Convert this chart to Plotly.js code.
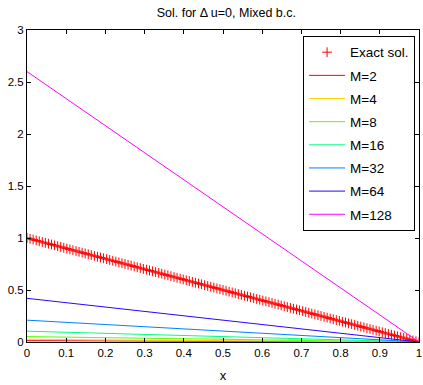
<!DOCTYPE html>
<html><head><meta charset="utf-8">
<script src="https://cdn.plot.ly/plotly-3.0.1.min.js"></script>
<style>html,body{margin:0;padding:0;background:#fff;}#c{width:423px;height:385px;}</style>
</head><body><div id="c"></div>
<script>
// Exact solution u = 1 - x sampled on 129 points
const exactN = 128;
const exactX = Array.from({length: exactN + 1}, (_, i) => i / exactN);
const exactY = exactX.map(x => 1 - x);

// Numerical solutions: straight lines from value at x=0 to 0 at x=1
const mLabels = ["M=2", "M=4", "M=8", "M=16", "M=32", "M=64", "M=128"];
const mStartValues = [0.013, 0.026, 0.052, 0.104, 0.21, 0.42, 2.6];
const mEndValues = [0, 0, 0, 0, 0, 0, 0];
const mColors = ["#ff0000", "#ffd500", "#55ff00", "#00ff80", "#0080ff", "#3000ff", "#ff00ff"];
const lineX = [0, 1];

const traces = [{
  x: exactX, y: exactY, type: "scatter", mode: "markers", name: "Exact sol.", legendgroup: "e",
  marker: {symbol: "cross-thin-open", size: 7, color: "#ff0000", line: {color: "#ff0000", width: 1}}
}];
mLabels.forEach((lab, i) => {
  traces.push({
    x: lineX, y: [mStartValues[i], mEndValues[i]], type: "scatter", mode: "lines",
    name: lab, legendgroup: "g" + i, line: {color: mColors[i], width: 1}
  });
});

const font = {family: "Liberation Sans, Arial, sans-serif", size: 11, color: "#000"};
const layout = {
  width: 423, height: 385,
  margin: {l: 27, r: 4, t: 30, b: 43},
  paper_bgcolor: "#fff", plot_bgcolor: "#fff",
  font: font,
  title: {text: "Sol. for Δ u=0, Mixed b.c.", font: {family: font.family, size: 12.5, color: "#000"}, x: 0.535, xanchor: "center", y: 0.966, yanchor: "middle"},
  xaxis: {range: [0, 1], dtick: 0.1, tick0: 0, ticks: "inside", ticklen: 4, tickcolor: "#000",
    showline: true, linecolor: "#000", linewidth: 1, mirror: "ticks", showgrid: false, zeroline: false,
    tickfont: {size: 11.5}, title: {text: "x", font: {size: 13}, standoff: 13}},
  yaxis: {range: [0, 3], dtick: 0.5, tick0: 0, ticks: "inside", ticklen: 4, tickcolor: "#000",
    showline: true, linecolor: "#000", linewidth: 1, mirror: "ticks", showgrid: false, zeroline: false,
    tickfont: {size: 11.5}},
  showlegend: true,
  legend: {x: 0.99, xanchor: "right", y: 0.981, yanchor: "top", bgcolor: "#fff",
    bordercolor: "#000", borderwidth: 1, font: {family: font.family, size: 13.5, color: "#000"},
    tracegroupgap: 2.6, itemwidth: 36}
};
Plotly.newPlot("c", traces, layout, {staticPlot: true});
</script></body></html>
